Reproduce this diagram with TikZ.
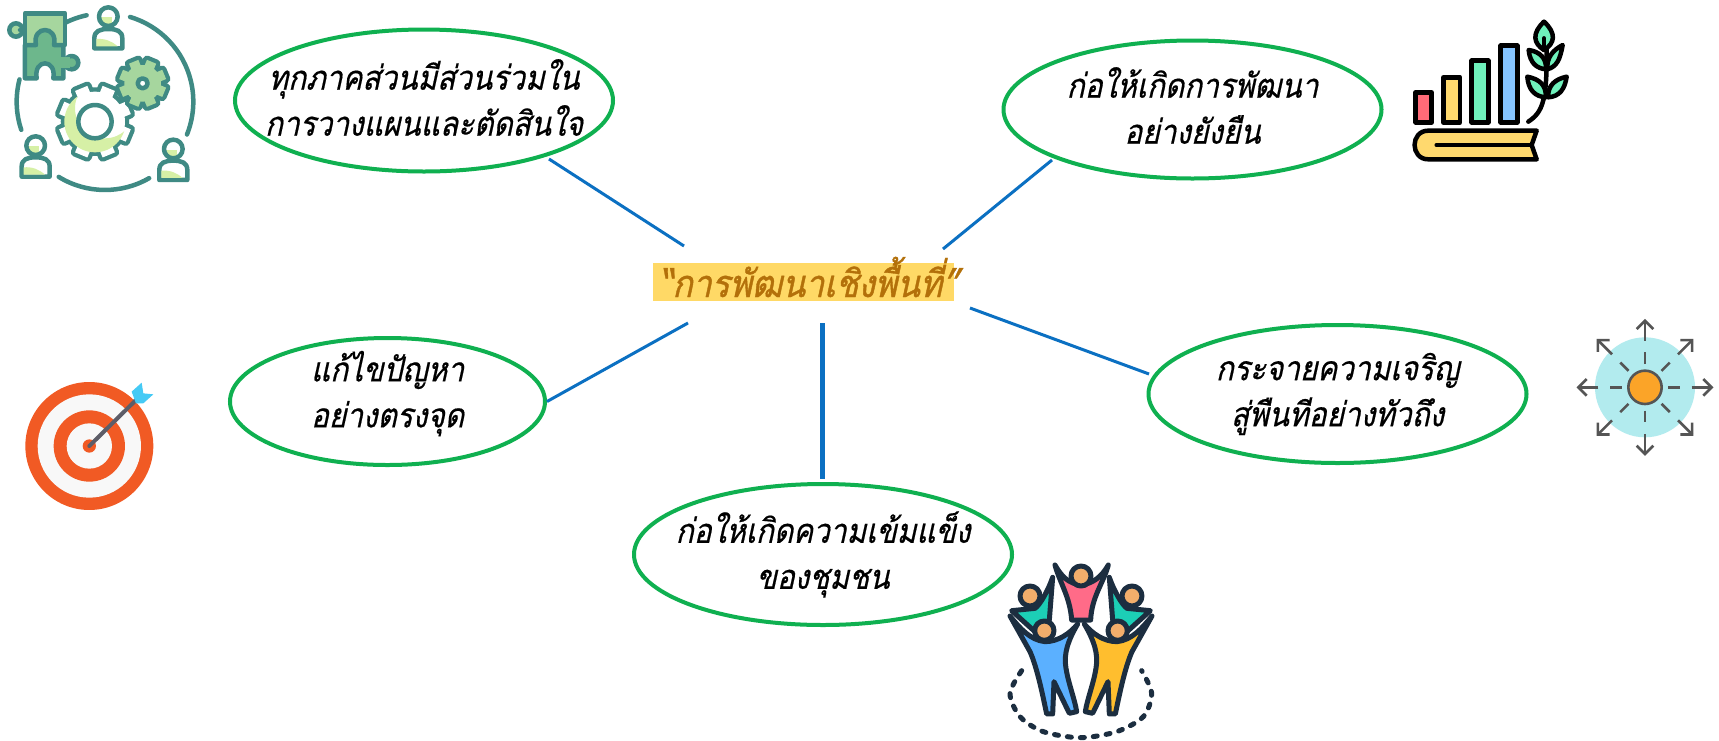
\documentclass[tikz,border=0pt]{standalone}
\usepackage{fontspec}
\newfontfamily\thaifont[Script=Thai,FakeSlant=0.22,FakeStretch=0.875,FakeBold=0.5]{Loma}
\newfontfamily\thaihub[Script=Thai,FakeSlant=0.22,FakeStretch=0.885,FakeBold=1]{Loma}
\usetikzlibrary{shapes.geometric,calc}
\definecolor{ovalgreen}{HTML}{0FB050}
\definecolor{linkblue}{HTML}{0B70C2}
\definecolor{hubfill}{HTML}{FFD966}
\definecolor{hubtext}{HTML}{B3700A}
\definecolor{teal1}{HTML}{3F8A84}
\definecolor{lime1}{HTML}{D6F0A6}
\definecolor{green1}{HTML}{A6D69E}
\definecolor{green2}{HTML}{6DB78C}
\definecolor{dark5}{HTML}{1C2E40}
\definecolor{teal5}{HTML}{1CCFB6}
\definecolor{head5}{HTML}{F2AE6B}
\definecolor{pink5}{HTML}{FF6B88}
\definecolor{blue5}{HTML}{5BB0FF}
\definecolor{yellow5}{HTML}{FFBE2E}
\definecolor{barred}{HTML}{FF6B78}
\definecolor{baryellow}{HTML}{FFD96E}
\definecolor{bargreen}{HTML}{6FF2BC}
\definecolor{barblue}{HTML}{85C4FF}
\definecolor{sky3}{HTML}{B2EBEE}
\definecolor{orange3}{HTML}{FBA428}
\definecolor{grey3}{HTML}{555555}
\definecolor{red4}{HTML}{F15A24}
\definecolor{white4}{HTML}{F8F8F8}
\definecolor{dart4}{HTML}{45CAF5}
\definecolor{shaft4}{HTML}{5D5D68}
\tikzset{
  oval/.style={ellipse,draw=ovalgreen,line width=4pt,inner sep=0pt,minimum width=378pt,minimum height=138pt},
  ovaltext/.style={align=center,font=\thaifont\fontsize{34}{46}\selectfont,text=black},
  link/.style={draw=linkblue,line width=3pt},
  thicklink/.style={draw=linkblue,line width=5pt},
  ic1/.style={x=0.3333pt,y=-0.3333pt,line width=4.5pt,line join=round,line cap=round},
}
\newcommand\gearpart[6]{%
  \foreach \a in {0,45,...,315}{\path[#6,shift={(#1,#2)},rotate=\a+22.5] (-#5,0) rectangle (#5,#4);}
  \path[#6] (#1,#2) circle[radius=#3];}
\newcommand\bust[3]{%
  \path[fill=white] (#1,#2) circle[radius=26];
  \begin{scope}\clip (#1,#2) circle[radius=26];\fill[lime1] (#1-30,#2+2) rectangle (#1+10,#2+30);\end{scope}
  \draw[teal1] (#1,#2) circle[radius=28];
  \draw[teal1,fill=white] (#1-42,#3) -- (#1-42,#3-30) .. controls (#1-42,#3-52) and (#1-25,#3-58) .. (#1,#3-58) .. controls (#1+25,#3-58) and (#1+42,#3-52) .. (#1+42,#3-30) -- (#1+42,#3) -- cycle;
  \fill[lime1] (#1-36,#3-6) -- (#1-36,#3-28) .. controls (#1-10,#3-30) and (#1+10,#3-22) .. (#1+28,#3-6) -- cycle;
}
\newcommand\bodypath[1]{%
  \draw[dark5,line width=5pt,line join=round,fill=#1] (90,228) .. controls (120,265) and (150,300) .. (195,305) .. controls (235,305) and (270,280) .. (293,252) .. controls (265,300) and (250,340) .. (258,385) .. controls (265,430) and (285,480) .. (290,515) -- (268,520) -- (222,425) -- (218,522) -- (200,522) .. controls (185,450) and (170,380) .. (150,335) -- cycle;
  \draw[dark5,line width=5pt,fill=head5] (193,272) circle[radius=29];}
\newcommand\tealpath{%
  \draw[dark5,line width=5pt,line join=round,fill=teal5] (218,112) -- (208,240) -- (165,275) -- (95,212) -- (165,205) .. controls (180,195) and (205,150) .. (218,112) -- cycle;
  \draw[dark5,line width=5pt,fill=head5] (150,168) circle[radius=30];}
\begin{document}
\begin{tikzpicture}[x=1pt,y=-1pt]
\useasboundingbox[fill=white] (0,0) rectangle (1719,740);

% hub
\node[rectangle,fill=hubfill,inner sep=0pt,minimum width=301pt,minimum height=38pt,
  label={[font=\thaihub\fontsize{38}{42}\selectfont,text=hubtext,xshift=5pt,yshift=5pt]center:“การพัฒนาเชิงพื้นที่”}] (hub) at (803.5,282) {};

% ovals
\node[oval,minimum height=142pt,label={[ovaltext,yshift=3pt]center:{ทุกภาคส่วนมีส่วนร่วมใน\\การวางแผนและตัดสินใจ}}] (e1) at (424,100.5) {};
\node[oval,label={[ovaltext,yshift=4pt]center:{ก่อให้เกิดการพัฒนา\\อย่างยังยืน}}] (e2) at (1192.5,109.5) {};
\node[oval,label={[ovaltext]center:{กระจายความเจริญ\\สู่พืนทีอย่างทัวถึง}}] (e3) at (1337.5,394) {};
\node[oval,minimum width=315pt,minimum height=127pt,label={[ovaltext,yshift=8pt]center:{แก้ไขปัญหา\\อย่างตรงจุด}}] (e4) at (387.5,401.5) {};
\node[oval,minimum height=141pt,label={[ovaltext]center:{ก่อให้เกิดความเข้มแข็ง\\ของชุมชน}}] (e5) at (823,554.5) {};

% connector ends
\coordinate (h1) at (684,246);
\coordinate (h2) at (943,249);
\coordinate (h3) at (970,308);
\coordinate (h4) at (688,323);
\coordinate (h5) at (822,323);
\coordinate (t1) at (549,159);
\coordinate (t2) at (1052,160);
\coordinate (t3) at (1149,374);
\coordinate (t5) at (822,479);
\draw[link] (h1) -- (t1);
\draw[link] (h2) -- (t2);
\draw[link] (h3) -- (t3);
\draw[link] (h4) -- (e4.east);
\draw[thicklink] (h5) -- (t5);

% icon 1
\begin{scope}[ic1]
  \draw[teal1] (315,305) ++(-73.5:265) arc(-73.5:21.8:265);
  \draw[teal1] (315,305) ++(60:265) arc(60:121.6:265);
  \draw[teal1] (315,305) ++(161.4:265) arc(161.4:194.6:265);
  \draw[teal1] (315,305) ++(241:265) arc(241:258:265);
  \draw[teal1,fill=green1] (48,90) circle[radius=20];
  \draw[teal1] (60,90) -- (80,90);
  \draw[teal1,fill=green1] (75,40) -- (195,40) -- (195,135) -- (75,135) -- cycle;
  \draw[teal1,fill=green2] (215,188) circle[radius=20];
  \draw[teal1,fill=green2] (75,135) -- (108,135) .. controls (95,75) and (175,75) .. (162,135) -- (190,135) -- (190,235) -- (160,235) .. controls (170,175) and (100,175) .. (110,235) -- (75,235) -- cycle;
  \fill[green2] (180,172) rectangle (210,204);
  \bust{325}{50}{145}
  \bust{107}{437}{530}
  \bust{520}{447}{540}
  % big gear
  \gearpart{285}{365}{90}{108}{20}{draw=teal1,line width=8.5pt}
  \gearpart{285}{365}{90}{108}{20}{fill=white}
  \begin{scope}
    \clip (285,365) circle[radius=92];
    \fill[lime1,even odd rule] (285,365) circle[radius=130] (315,325) circle[radius=90];
  \end{scope}
  \draw[teal1,fill=white] (285,365) circle[radius=50];
  % small gear
  \gearpart{428}{250}{55}{70}{15}{draw=teal1,line width=8.5pt}
  \gearpart{428}{250}{55}{70}{15}{fill=green1}
  \draw[teal1,fill=white] (428,250) circle[radius=15];
\end{scope}

% icon 2
\begin{scope}[ic1,xshift=1390pt]
  \draw[fill=barred] (77,277) rectangle (125,367);
  \draw[fill=baryellow] (160,232) rectangle (210,367);
  \draw[fill=bargreen] (245,182) rectangle (295,367);
  \draw[fill=barblue] (332,137) rectangle (382,367);
  \draw[fill=baryellow] (440,392) -- (115,392) .. controls (60,392) and (60,478) .. (115,478) -- (440,478) -- (425,435) -- cycle;
  \draw (140,435) -- (425,435);
  \draw (415,365) .. controls (460,335) and (472,300) .. (470,130);
  \draw[fill=bargreen] (462,65) .. controls (425,100) and (430,130) .. (462,150) .. controls (495,130) and (500,100) .. (462,65) -- cycle;
  \draw (462,150) -- (462,115);
  \draw[fill=bargreen] (416,150) .. controls (420,190) and (440,205) .. (468,208) .. controls (470,175) and (450,155) .. (416,150) -- cycle;
  \draw[fill=bargreen] (518,135) .. controls (510,180) and (500,200) .. (472,208) .. controls (470,170) and (490,150) .. (518,135) -- cycle;
  \draw[fill=bargreen] (412,230) .. controls (415,270) and (435,290) .. (468,292) .. controls (468,255) and (450,238) .. (412,230) -- cycle;
  \draw[fill=bargreen] (530,230) .. controls (525,265) and (510,290) .. (474,292) .. controls (474,255) and (495,238) .. (530,230) -- cycle;
\end{scope}

% icon 3
\begin{scope}[ic1,xshift=1560pt,yshift=-310pt,line width=2.6pt,line cap=butt,line join=miter]
  \fill[sky3] (255,232) circle[radius=150];
  \draw[grey3,fill=orange3] (255,232) circle[radius=50];
  \foreach \a in {0,45,...,315}{
    \begin{scope}[shift={(255,232)},rotate=\a]
      \draw[grey3] (70,0) -- (105,0);
      \draw[grey3] (140,0) -- (200,0);
      \draw[grey3] (175,-25) -- (200,0) -- (175,25);
    \end{scope}}
\end{scope}

% icon 4
\begin{scope}[ic1,yshift=-360pt]
  \fill[red4] (268,258) circle[radius=192];
  \fill[white4] (268,258) circle[radius=155];
  \fill[red4] (268,258) circle[radius=107];
  \fill[white4] (268,258) circle[radius=68];
  \fill[red4] (268,258) circle[radius=20];
  \draw[shaft4,line width=4pt] (268,258) -- (408,120);
  \fill[dart4] (395,95) -- (425,68) -- (430,100) -- (460,103) -- (430,130) -- (408,130) -- cycle;
\end{scope}

% icon 5
\begin{scope}[ic1,xshift=980pt,yshift=-540pt]
  \draw[dark5,line width=5pt,dash pattern=on 4pt off 9pt] plot[smooth] coordinates {(125,392) (90,460) (120,530) (190,575) (300,593) (410,575) (490,530) (515,460) (485,392)};
  \draw[dark5,line width=5pt,line join=round,fill=pink5] (225,75) .. controls (245,110) and (265,130) .. (303,135) .. controls (340,130) and (365,110) .. (385,75) .. controls (370,130) and (335,170) .. (332,240) -- (275,240) .. controls (270,170) and (240,130) .. (225,75) -- cycle;
  \draw[dark5,line width=5pt,fill=head5] (303,108) circle[radius=30];
  \tealpath
  \begin{scope}[shift={(606,0)},xscale=-1]\tealpath\end{scope}
  \bodypath{blue5}
  \begin{scope}[shift={(606,0)},xscale=-1]\bodypath{yellow5}\end{scope}
\end{scope}
\end{tikzpicture}
\end{document}
